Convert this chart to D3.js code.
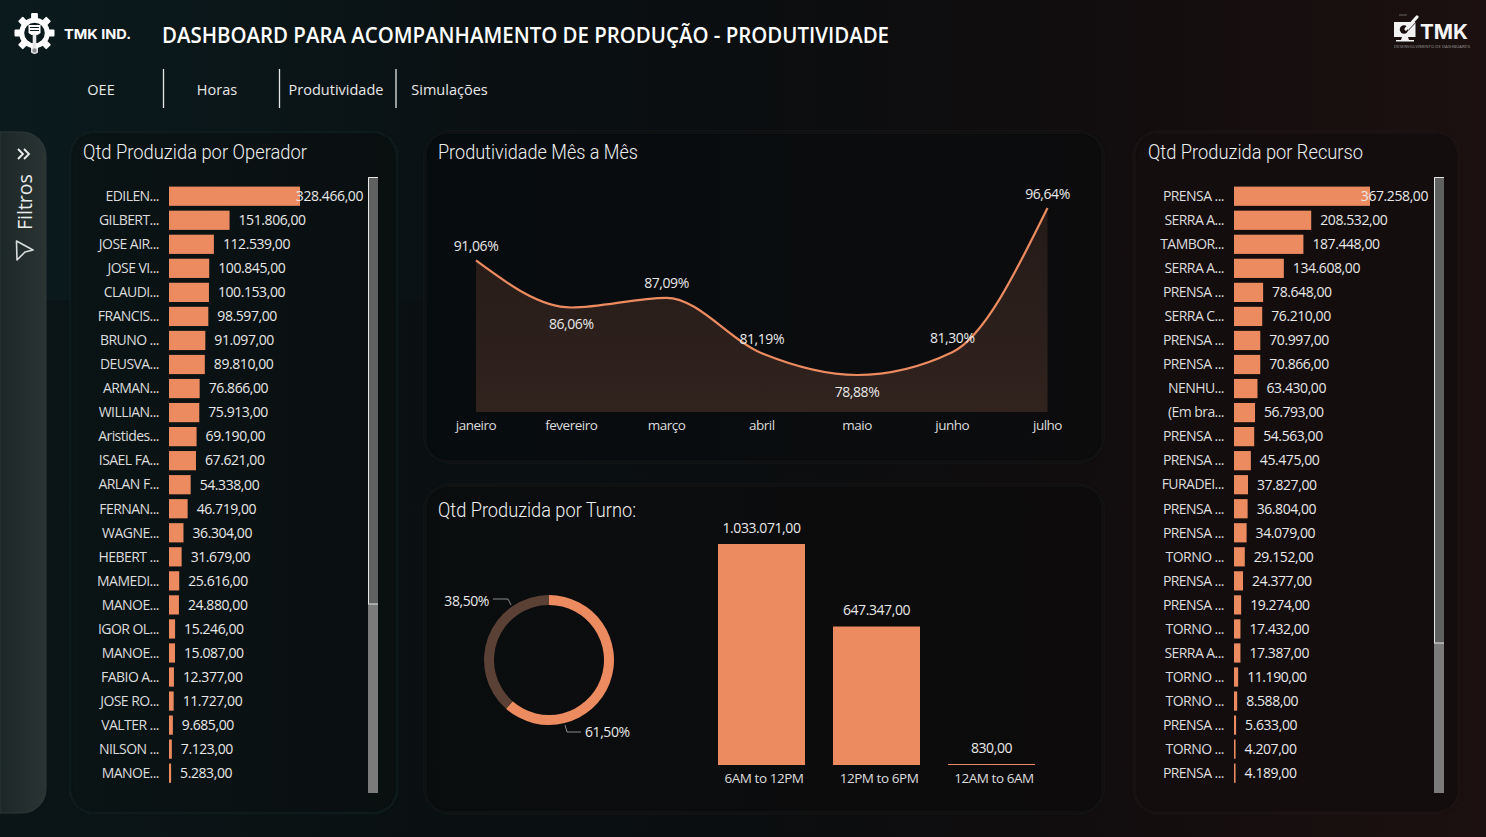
<!DOCTYPE html>
<html lang="pt"><head><meta charset="utf-8">
<script src="https://cdnjs.cloudflare.com/ajax/libs/d3/7.8.5/d3.min.js"></script>
<style>
html,body{margin:0;padding:0;background:#0b0f10;overflow:hidden}
svg{display:block}
text{font-family:"Open Sans","Noto Sans",sans-serif;fill:#e8e8e8}
.domain{display:none}
</style></head><body>
<svg id="c" width="1486" height="837"></svg>
<script>
const operators=["EDILEN...","GILBERT...","JOSE AIR...","JOSE VI...","CLAUDI...","FRANCIS...","BRUNO ...","DEUSVA...","ARMAN...","WILLIAN...","Aristides...","ISAEL FA...","ARLAN F...","FERNAN...","WAGNE...","HEBERT ...","MAMEDI...","MANOE...","IGOR OL...","MANOE...","FABIO A...","JOSE RO...","VALTER ...","NILSON ...","MANOE..."];
const operatorValues=[328466,151806,112539,100845,100153,98597,91097,89810,76866,75913,69190,67621,54338,46719,36304,31679,25616,24880,15246,15087,12377,11727,9685,7123,5283];
const resources=["PRENSA ...","SERRA A...","TAMBOR...","SERRA A...","PRENSA ...","SERRA C...","PRENSA ...","PRENSA ...","NENHU...","(Em bra...","PRENSA ...","PRENSA ...","FURADEI...","PRENSA ...","PRENSA ...","TORNO ...","PRENSA ...","PRENSA ...","TORNO ...","SERRA A...","TORNO ...","TORNO ...","PRENSA ...","TORNO ...","PRENSA ..."];
const resourceValues=[367258,208532,187448,134608,78648,76210,70997,70866,63430,56793,54563,45475,37827,36804,34079,29152,24377,19274,17432,17387,11190,8588,5633,4207,4189];
const months=["janeiro","fevereiro","março","abril","maio","junho","julho"];
const productivity=[91.06,86.06,87.09,81.19,78.88,81.30,96.64];
const labelBelow=[false,true,false,false,true,false,false];
const shifts=["6AM to 12PM","12PM to 6PM","12AM to 6AM"];
const shiftValues=[1033071,647347,830];
const shareValues=[61.5,38.5];
const menu=["OEE","Horas","Produtividade","Simulações"];

const ORANGE="#ec8b60";
const loc=d3.formatLocale({decimal:",",thousands:".",grouping:[3],currency:["",""]});
const fmt=loc.format(",.2f"), pct=v=>loc.format(".2f")(v)+"%";
const svg=d3.select("#c");
const defs=svg.append("defs");
function grad(id,stops,vertical){const g=defs.append("linearGradient").attr("id",id).attr("x1",0).attr("y1",0).attr("x2",vertical?0:1).attr("y2",vertical?1:0);
  stops.forEach(s=>g.append("stop").attr("offset",s[0]).attr("stop-color",s[1]).attr("stop-opacity",s[2]===undefined?1:s[2]));}
grad("bg",[[0,"#0b1517"],[.25,"#0a1113"],[.5,"#0b0e10"],[.75,"#120d0e"],[1,"#1c1010"]]);
grad("fp",[[0,"#1c2727"],[1,"#2a3433"]]);
grad("tl",[[0,"#0b2326",.4],[.35,"#0b2326",0]]);
grad("p1",[[0,"#0a1415"],[1,"#0a0f10"]]);
grad("p2",[[0,"#070c0f"],[1,"#0c0c0d"]]);
grad("p3",[[0,"#0a0d0e"],[1,"#0d0b0c"]]);
grad("ar",[[0,"#241a17"],[1,"#31231e"]],true);
defs.append("filter").attr("id","soft").append("feGaussianBlur").attr("stdDeviation",1.2);
svg.append("rect").attr("width",1486).attr("height",837).attr("fill","url(#bg)");
svg.append("rect").attr("width",1486).attr("height",300).attr("fill","url(#tl)");

function panel(x,y,w,h,fill,stroke){
  svg.append("rect").attr("x",x).attr("y",y).attr("width",w).attr("height",h).attr("rx",24).attr("fill",fill);
  svg.append("rect").attr("x",x).attr("y",y).attr("width",w).attr("height",h).attr("rx",24).attr("fill","none").attr("stroke",stroke).attr("stroke-width",2.2).attr("filter","url(#soft)");
}
panel(70,132,327,681,"url(#p1)","#0f1e1e");
panel(425,132,678,330,"url(#p2)","#121718");
panel(425,485,678,328,"url(#p3)","#141718");
panel(1134,132,325,681,"#130d0e","#1b1718");
svg.append("path").attr("d","M0,132 H22 a24,24 0 0 1 24,24 V789 a24,24 0 0 1 -24,24 H0 Z").attr("fill","url(#fp)").attr("stroke","#2d3837");

function title(t,x,y,len){svg.append("text").attr("x",x).attr("y",y).style("font-family","Roboto").style("font-weight",300).attr("font-size",20).attr("textLength",len).attr("lengthAdjust","spacingAndGlyphs").style("fill","#eef0f0").text(t);}
title("Qtd Produzida por Operador",83,159,224);
title("Produtividade Mês a Mês",438,159,200);
title("Qtd Produzida por Turno:",438,517,198);
title("Qtd Produzida por Recurso",1148,159,215);

svg.append("text").attr("x",64).attr("y",39).attr("font-size",13.5).attr("font-weight",700).style("font-family","Inter").style("fill","#fff").attr("textLength",67).attr("lengthAdjust","spacingAndGlyphs").text("TMK IND.");
svg.append("text").attr("x",162).attr("y",43).attr("font-size",21).attr("font-weight",600).style("font-family","'Open Sans'").style("fill","#fff").attr("textLength",727).attr("lengthAdjust","spacingAndGlyphs").text("DASHBOARD PARA ACOMPANHAMENTO DE PRODUÇÃO - PRODUTIVIDADE");

const menuCenters=[101,217,336,449.5];
svg.selectAll(".menu").data(menu).join("text").attr("class","menu").attr("x",(d,i)=>menuCenters[i]).attr("y",95).attr("text-anchor","middle").attr("font-size",14.5).text(d=>d);
[163.5,279.5,396].forEach(x=>svg.append("line").attr("x1",x).attr("x2",x).attr("y1",69).attr("y2",108).attr("stroke","#e6e6e6").attr("stroke-width",1.3));

// logo gear
(function(){const g=svg.append("g").attr("transform","translate(34.5,33)");
 for(let i=0;i<8;i++){g.append("rect").attr("x",-3.4).attr("y",-20).attr("width",6.8).attr("height",8).attr("rx",1).attr("fill","#fff").attr("transform",`rotate(${i*45})`);}
 g.append("circle").attr("r",12.8).attr("fill","none").attr("stroke","#fff").attr("stroke-width",5);
 g.append("path").attr("d","M-6,-8 H6 V0 L3,2 H-3 L-6,0 Z").attr("fill","#fff");
 g.append("path").attr("d","M-4.5,-5.5 H4.5 M-4.5,-2.5 H4.5").attr("stroke","#0b1c1f").attr("stroke-width",1);
 g.append("rect").attr("x",-1.8).attr("y",1).attr("width",3.6).attr("height",14).attr("fill","#e8e8e8");
 g.append("circle").attr("cy",17.5).attr("r",2.8).attr("fill","#8a8f8f").attr("stroke","#e8e8e8").attr("stroke-width",1.2);
})();
// logo right
(function(){const g=svg.append("g").attr("transform","translate(1394,22)");
 g.append("rect").attr("x",0).attr("y",0).attr("width",21.5).attr("height",15).attr("fill","#f2f2f2");
 g.append("circle").attr("cx",10).attr("cy",7.5).attr("r",4.2).attr("fill","#1a1010");
 g.append("path").attr("d","M12,7 L23,-5").attr("stroke","#f2f2f2").attr("stroke-width",3.2).attr("stroke-linecap","round");
 g.append("path").attr("d","M12,7 L23,-5").attr("stroke","#1a1010").attr("stroke-width",.8).attr("transform","translate(2.2,1.6)");
 g.append("path").attr("d","M8,15 H14 L15,18 H20 V19.5 H2 V18 H7 Z").attr("fill","#f2f2f2");
 g.append("path").attr("d","M5,-7 H13").attr("stroke","#8a8a8a").attr("stroke-width",.7);
 svg.append("text").attr("x",1420).attr("y",39).attr("font-size",20).attr("font-weight",700).style("font-family","Inter").style("fill","#f4f4f4").attr("textLength",48).attr("lengthAdjust","spacingAndGlyphs").text("TMK");
 svg.append("text").attr("x",1394).attr("y",48).attr("font-size",4).style("fill","#9a9a9a").attr("textLength",76).attr("lengthAdjust","spacingAndGlyphs").text("DESENVOLVIMENTO DE DASHBOARDS");
})();

// filter pane
svg.append("path").attr("d","M18,149 l5,5 l-5,5 M24,149 l5,5 l-5,5").attr("fill","none").attr("stroke","#eef0f0").attr("stroke-width",1.8);
svg.append("text").attr("transform","translate(32,230) rotate(-90)").attr("font-size",19.5).style("fill","#e9ecec").text("Filtros");
svg.append("path").attr("d","M16.5,241 L33,250 L25,252 L17,260 Z").attr("fill","none").attr("stroke","#d8dcdc").attr("stroke-width",1.6).attr("stroke-linejoin","round");

function barList(names,values,x0,maxW,labelRight,sbX,thumbEnd){
  const idx=d3.range(names.length);
  const y=d3.scaleBand().domain(idx).range([184.2,785.2]).paddingInner(.2).paddingOuter(.1);
  const x=d3.scaleLinear().domain([0,d3.max(values)]).range([x0,x0+maxW]);
  const ax=svg.append("g").attr("transform",`translate(${x0-10},0.3)`).call(d3.axisLeft(y).tickSize(0).tickPadding(0).tickFormat(i=>names[i]));
  ax.selectAll("text").attr("font-size",14).style("letter-spacing","-0.55px").style("fill","#dcdcdc");
  svg.append("g").selectAll("rect").data(idx).join("rect").attr("x",x0).attr("y",i=>y(i)).attr("width",i=>x(values[i])-x0).attr("height",y.bandwidth()).attr("fill",ORANGE);
  svg.append("g").selectAll("text").data(idx).join("text")
    .attr("x",i=>i===0?labelRight:x(values[i])+9).attr("text-anchor",i=>i===0?"end":"start")
    .attr("y",i=>y(i)+y.bandwidth()/2+4.8).attr("font-size",14).style("letter-spacing","-0.42px").text(i=>fmt(values[i]));
  svg.append("rect").attr("x",sbX).attr("y",177).attr("width",10).attr("height",616).attr("fill","#7b7b7b");
  svg.append("rect").attr("x",sbX).attr("y",177.5).attr("width",10).attr("height",thumbEnd-177.5).attr("fill","#5f6161");
  svg.append("path").attr("d",`M${sbX+.5},${thumbEnd} V177.5 H${sbX+10}`).attr("fill","none").attr("stroke","#e6e6e6");
  svg.append("path").attr("d",`M${sbX},${thumbEnd} H${sbX+10}`).attr("fill","none").attr("stroke","#e6e6e6");
}
barList(operators,operatorValues,169,131,363,368,604);
barList(resources,resourceValues,1234,136,1428,1434,643);

// line + area
const xL=d3.scalePoint().domain(months).range([476,1047.5]);
const yL=d3.scaleLinear().domain([78.88,96.64]).range([375,208]);
const pts=months.map((m,i)=>({m,v:productivity[i],b:labelBelow[i]}));
const curve=d3.curveMonotoneX;
svg.append("path").datum(pts).attr("fill","url(#ar)").attr("d",d3.area().x(d=>xL(d.m)).y0(412).y1(d=>yL(d.v)).curve(curve));
svg.append("path").datum(pts).attr("fill","none").attr("stroke",ORANGE).attr("stroke-width",2.2).attr("d",d3.line().x(d=>xL(d.m)).y(d=>yL(d.v)).curve(curve));
svg.selectAll(".pl").data(pts).join("text").attr("class","pl").attr("x",d=>xL(d.m)).attr("y",d=>yL(d.v)+(d.b?21.5:-9.5)).attr("text-anchor","middle").attr("font-size",14).style("letter-spacing","-0.42px").text(d=>pct(d.v));
svg.append("g").attr("transform","translate(-0.5,412)").call(d3.axisBottom(xL).tickSize(0).tickPadding(8)).selectAll("text").attr("font-size",13.5).style("letter-spacing","-0.5px").style("fill","#dcdcdc");

// donut
const pie=d3.pie().sort(null)(shareValues);
const arc=d3.arc().innerRadius(55).outerRadius(65);
const dg=svg.append("g").attr("transform","translate(549,660)");
dg.selectAll("path").data(pie).join("path").attr("d",arc).attr("fill",(d,i)=>i===0?ORANGE:"#5a4035");
[[ "M16,65 L18,72 H32",36,77,"start",0],["M-38,-55 L-41,-61 H-56",-60,-54,"end",1]].forEach(r=>{
  dg.append("path").attr("d",r[0]).attr("fill","none").attr("stroke","#8a8a8a").attr("stroke-width",1);
  dg.append("text").attr("x",r[1]).attr("y",r[2]).attr("text-anchor",r[3]).attr("font-size",14).style("letter-spacing","-0.42px").text(pct(shareValues[r[4]]));
});

// shift bars
const xB=d3.scaleBand().domain(shifts).range([704,1049]).paddingInner(28/115).paddingOuter(14/115);
const yB=d3.scaleLinear().domain([0,d3.max(shiftValues)]).range([765,544]);
const sh=shifts.map((s,i)=>({s,v:shiftValues[i]}));
svg.selectAll(".sb").data(sh).join("rect").attr("class","sb").attr("x",d=>xB(d.s)).attr("width",xB.bandwidth()).attr("y",d=>Math.min(yB(d.v),764)).attr("height",d=>Math.max(765-yB(d.v),1)).attr("fill",ORANGE);
svg.selectAll(".sl").data(sh).join("text").attr("class","sl").attr("x",d=>xB(d.s)+xB.bandwidth()/2).attr("y",d=>Math.min(yB(d.v),764)-11.5).attr("text-anchor","middle").attr("font-size",14).style("letter-spacing","-0.42px").text(d=>fmt(d.v));
svg.append("g").attr("transform","translate(2.5,765)").call(d3.axisBottom(xB).tickSize(0).tickPadding(8)).selectAll("text").attr("font-size",13.5).style("letter-spacing","-0.45px").style("fill","#dcdcdc");
</script></body></html>
